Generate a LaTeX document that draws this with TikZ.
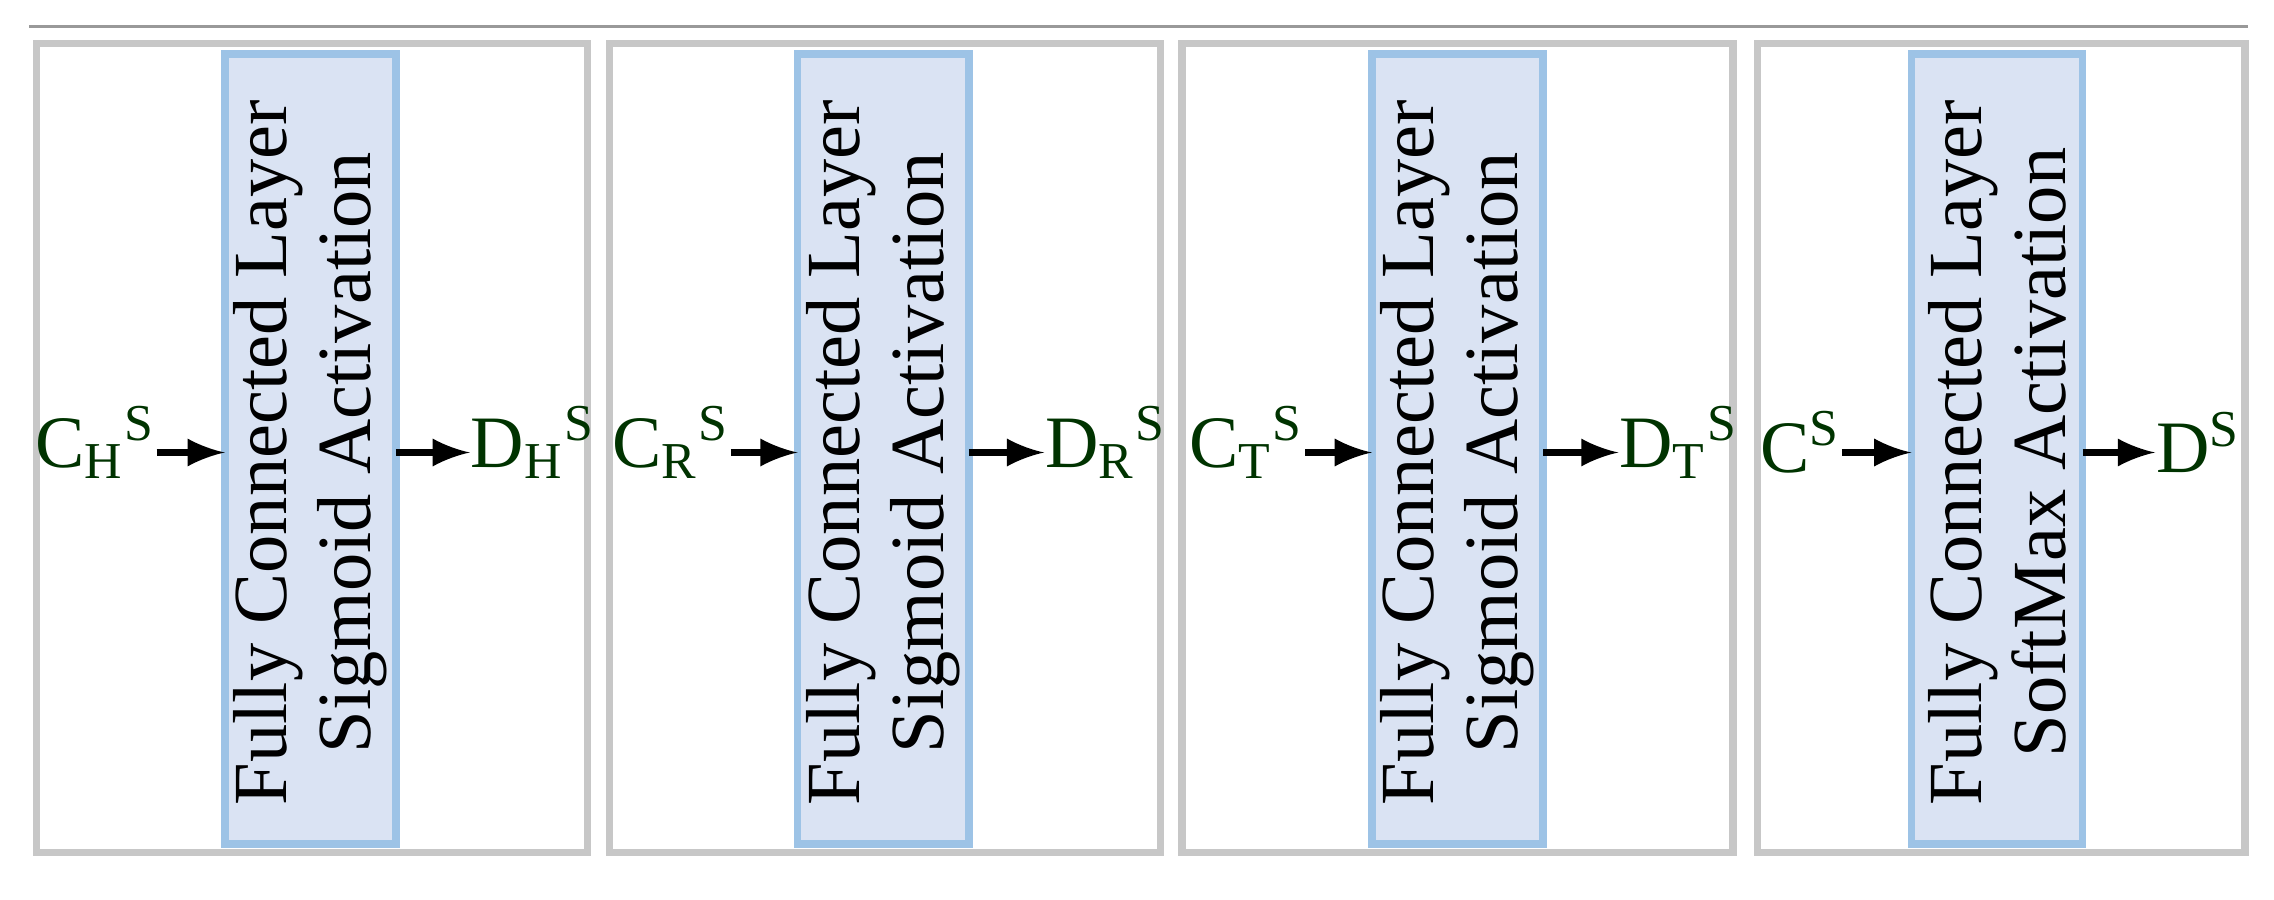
\documentclass[tikz,border=0pt]{standalone}
\usepackage{fontspec}
\setmainfont{Liberation Serif}
\begin{document}
\begin{tikzpicture}[x=0.01cm,y=-0.01cm,
  outer/.style={draw=black!22,line width=1.4pt},
  inner/.style={draw={rgb,255:red,157;green,195;blue,230},fill={rgb,255:red,218;green,227;blue,243},line width=1.5pt},
  lbl/.style={text={rgb,255:red,0;green,51;blue,0},font=\fontsize{14.5}{16}\selectfont,inner sep=0pt},
  txt/.style={rotate=90,align=center,font=\fontsize{15}{16.5}\selectfont},
  arr/.style={-latex,line width=1.5pt}]
\useasboundingbox (0,0) rectangle (1568,620);
\draw[black!40,line width=0.6pt] (20,18) -- (1550,18);
\foreach \ox/\ow/\ix/\n in {25/380/155/1,420/380/550/2,815/380/946/3,1212/336/1318/4}{
  \draw[outer] (\ox,30) rectangle ++(\ow,558);
  \draw[inner] (\ix,37) rectangle ++(118,545);
  \node (b\n) at (\ix+59,312) {};
  \coordinate (bl\n) at (\ix,312);
  \coordinate (br\n) at (\ix+118,312);
}
\node[txt] at (b1) {Fully Connected Layer\\Sigmoid Activation};
\node[txt] at (b2) {Fully Connected Layer\\Sigmoid Activation};
\node[txt] at (b3) {Fully Connected Layer\\Sigmoid Activation};
\node[txt] at (b4) {Fully Connected Layer\\SoftMax Activation};
\node[lbl,anchor=east] (c1) at (108,305) {C\textsubscript{H}\textsuperscript{S}};
\node[lbl,anchor=west] (d1) at (324,305) {D\textsubscript{H}\textsuperscript{S}};
\node[lbl,anchor=east] (c2) at (504,305) {C\textsubscript{R}\textsuperscript{S}};
\node[lbl,anchor=west] (d2) at (720,305) {D\textsubscript{R}\textsuperscript{S}};
\node[lbl,anchor=east] (c3) at (900,305) {C\textsubscript{T}\textsuperscript{S}};
\node[lbl,anchor=west] (d3) at (1116,305) {D\textsubscript{T}\textsuperscript{S}};
\node[lbl,anchor=east] (c4) at (1270,305) {C\textsuperscript{S}};
\node[lbl,anchor=west] (d4) at (1486,305) {D\textsuperscript{S}};
\foreach \n in {1,2,3,4}{
  \draw[arr] (c\n.east|-bl\n) -- (bl\n);
  \draw[arr] (br\n) -- (d\n.west|-br\n);
}
\end{tikzpicture}
\end{document}
